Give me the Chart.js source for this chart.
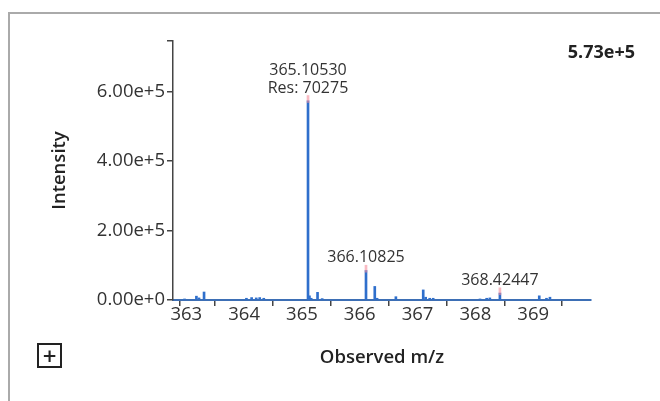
<!DOCTYPE html>
<html>
<head>
<meta charset="utf-8">
<script src="https://cdn.jsdelivr.net/npm/chart.js@4.4.1/dist/chart.umd.min.js"></script>
<style>
  body { margin: 0; background: #fff; overflow: hidden; }
  #wrap { position: relative; width: 660px; height: 401px; overflow: hidden; }
  #frame { position: absolute; left: 8px; top: 12px; width: 700px; height: 450px; border: 2px solid #aaa; }
  #chart { position: absolute; left: 0; top: 0; }
  #plus { position: absolute; left: 37px; top: 343px; width: 21px; height: 21px; border: 2px solid #222;
          font: 600 24px/21px "Open Sans", sans-serif; text-align: center; color: #222; }
</style>
</head>
<body>
<div id="wrap">
  <div id="frame"></div>
  <canvas id="chart" width="660" height="401"></canvas>
  <div id="plus">+</div>
</div>
<script>
// peak list (m/z, intensity)
const mz = [362.97, 363.175, 363.22, 363.307, 364.04, 364.13, 364.21, 364.27, 364.34,
            365.10530, 365.13, 365.16, 365.27, 365.35,
            366.10825, 366.26, 366.30, 366.625,
            367.098, 367.14, 367.21, 367.27,
            368.08, 368.195, 368.25, 368.42447,
            369.105, 369.23, 369.29]
const intensity = [3000, 11000, 6000, 23000, 5000, 7000, 6000, 7000, 5000,
                   573000, 12000, 5000, 22000, 4000,
                   85000, 39000, 5000, 9500,
                   29000, 8000, 5000, 5000,
                   3000, 5000, 6000, 20000,
                   12000, 5000, 8000]

// annotated peaks
const labelMz = [365.10530, 366.10825, 368.42447]
const labelRes = [70275, null, null]

const xTicks = [363, 364, 365, 366, 367, 368, 369]
const yTicks = [0, 200000, 400000, 600000]

const X_MIN = 362.77, X_MAX = 370
const maxInt = Math.max(...intensity)
const Y_MAX = maxInt * 1.3

const FONT = '"Open Sans", sans-serif'
const BLUE = '#2f6fcc'

const labelInt = labelMz.map(m => intensity[mz.indexOf(m)])

const peakLabels = {
    id: 'peakLabels',
    afterDatasetsDraw(chart) {
        const {ctx, scales: {x, y}} = chart
        ctx.save()
        ctx.fillStyle = '#333'
        ctx.font = '16px ' + FONT
        ctx.textAlign = 'center'
        ctx.textBaseline = 'alphabetic'
        labelMz.forEach((m, i) => {
            const px = x.getPixelForValue(m)
            let py = y.getPixelForValue(labelInt[i]) - 8
            const lines = [m.toFixed(5)]
            if (labelRes[i]) lines.push('Res: ' + labelRes[i])
            for (let j = lines.length - 1; j >= 0; j--) {
                ctx.fillText(lines[j], px, py)
                py -= 17.5
            }
        })
        // max intensity in top right corner
        ctx.font = 'bold 18px ' + FONT
        ctx.fillStyle = '#222'
        ctx.textAlign = 'right'
        ctx.fillText(maxInt.toExponential(2), 635, 58)
        ctx.restore()
    }
}

const config = {
    type: 'bar',
    data: {
        datasets: [{
            data: mz.map((m, i) => ({x: m, y: intensity[i]})),
            backgroundColor: BLUE,
            barThickness: 2,
            grouped: false,
            order: 2
        }, {
            // highlight on annotated peak tips
            data: labelMz.map((m, i) => ({x: m, y: [labelInt[i] - 5000, labelInt[i] + 15000]})),
            backgroundColor: 'rgba(245,140,155,0.6)',
            barThickness: 2,
            grouped: false,
            order: 1
        }]
    },
    options: {
        responsive: false,
        animation: false,
        layout: {padding: {top: 41, right: 69, left: 0, bottom: 0}},
        plugins: {legend: {display: false}, tooltip: {enabled: false}},
        scales: {
            x: {
                type: 'linear',
                min: X_MIN,
                max: X_MAX,
                offset: false,
                afterBuildTicks: s => { s.ticks = [X_MIN, ...xTicks, X_MAX].map(v => ({value: v})) },
                afterFit: s => { s.height = 101 },
                grid: {drawOnChartArea: false, drawTicks: true, tickLength: 6, tickColor: '#444', lineWidth: 1.5},
                border: {color: '#3d6fb5', width: 2},
                ticks: {
                    color: '#333',
                    font: {family: FONT, size: 18.5},
                    padding: -2,
                    maxRotation: 0,
                    autoSkip: false,
                    callback: v => xTicks.includes(v) ? String(v) : ''
                },
                title: {display: true, text: 'Observed m/z', color: '#222',
                        font: {family: FONT, size: 18.5, weight: '600'}, padding: {bottom: 32}}
            },
            y: {
                min: 0,
                max: Y_MAX,
                afterBuildTicks: s => { s.ticks = [...yTicks, Y_MAX].map(v => ({value: v})) },
                afterFit: s => { s.width = 173 },
                grid: {drawOnChartArea: false, drawTicks: true, tickLength: 6, tickColor: '#444', lineWidth: 1.5},
                border: {color: '#444', width: 1.5},
                ticks: {
                    color: '#333',
                    font: {family: FONT, size: 18.5},
                    padding: 2,
                    callback: v => yTicks.includes(v) ? v.toExponential(2) : ''
                },
                title: {display: true, text: 'Intensity', color: '#222',
                        font: {family: FONT, size: 18.5, weight: '600'}, padding: {top: 49}}
            }
        }
    },
    plugins: [peakLabels]
}

new Chart(document.getElementById('chart'), config)
</script>
</body>
</html>
